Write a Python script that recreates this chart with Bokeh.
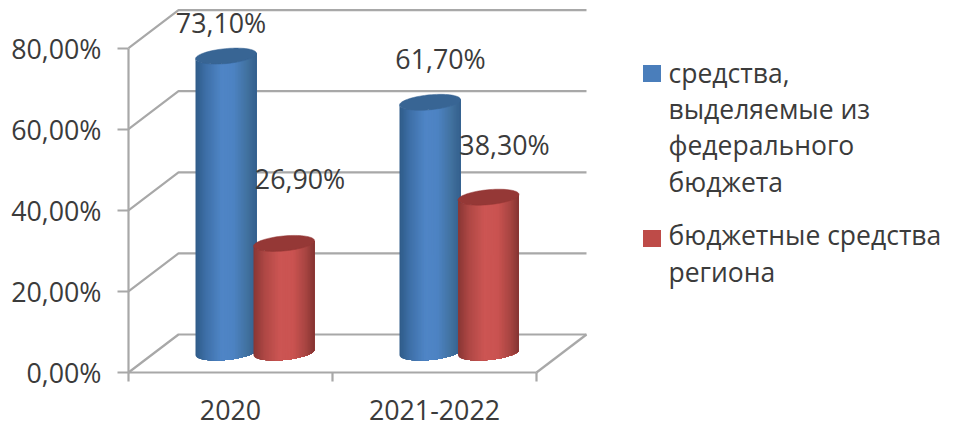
import numpy as np
from bokeh.plotting import figure
from bokeh.embed import file_html
from bokeh.resources import INLINE
from bokeh.core.properties import value
from bokeh.models import ColumnDataSource, FixedTicker

categories = ["2020", "2021-2022"]
federal = [73.1, 61.7]
regional = [26.9, 38.3]
y_ticks = [0, 20, 40, 60, 80]
y_tick_labels = ["0,00%", "20,00%", "40,00%", "60,00%", "80,00%"]
legend_federal = ["средства,", "выделяемые из", "федерального", "бюджета"]
legend_regional = ["бюджетные средства", "региона"]

FONT = "Open Sans"
TXT = "#3b3b3b"
FS = "26.8px"
FS_LEG = "26.5px"
GRID = "#a8a8a8"

W, H = 953, 426
PX_X = 204.0       # pixels per category
PX_Y = 4.055       # pixels per percent
X0, Y0 = 128, 372  # pixel of the origin


def fx(px):
    return (px - X0) / PX_X


def fy(py):
    return (Y0 - py) / PX_Y


p = figure(width=W, height=H, output_backend="svg", toolbar_location=None,
           x_range=(fx(0), fx(W)), y_range=(fy(H), fy(0)),
           min_border=0, outline_line_color=None, background_fill_color="white",
           border_fill_color="white", x_axis_location="below", y_axis_location="left")
p.grid.visible = False

# 3D walls
depth_x, depth_y = 50 / PX_X, 38 / PX_Y
n = len(categories)
for t in y_ticks:
    p.line([0, depth_x, n + depth_x], [t, t + depth_y, t + depth_y], line_color=GRID, line_width=2.2)
p.line([n, n + depth_x], [0, depth_y], line_color=GRID, line_width=2.2)


def lerp_color(stops, u):
    us = [s[0] for s in stops]
    cs = np.array([[int(s[1][i:i + 2], 16) for i in (1, 3, 5)] for s in stops], float)
    rgb = [np.interp(u, us, cs[:, k]) for k in range(3)]
    return "#%02x%02x%02x" % tuple(int(round(c)) for c in rgb)


BLUE = [(-1, "#2f5b88"), (-.65, "#3e70a8"), (-.15, "#4f85c6"), (.25, "#4d83c3"), (.7, "#41719f"), (1, "#345f8c")]
RED = [(-1, "#883634"), (-.65, "#ad4744"), (-.15, "#cc5553"), (.3, "#ca5351"), (.7, "#a94542"), (1, "#843432")]
BLUE_CAP, RED_CAP = "#386594", "#953836"

half_w = 30.5
ell_b = 7.5
tilt = 0.09
base = 20 / PX_Y


def front_arc(dx):
    return -ell_b * np.sqrt(np.clip(1 - (dx / half_w) ** 2, 0, 1)) + tilt * dx


def cylinder(center_px, val, stops, cap):
    # painter's strips: each strip covers all that lies to its right, so no seams show
    N = 40
    edges = np.linspace(-half_w, half_w, N + 1)
    top = val + base
    fine = np.linspace(-half_w, half_w, 121)
    xs, ys, cols = [], [], []
    for k in range(N):
        d = np.concatenate([[edges[k]], fine[fine > edges[k]]])
        xs.append(list(fx(center_px + d)) + list(fx(center_px + d[::-1])))
        ys.append(list(top + front_arc(d) / PX_Y) + list(base + front_arc(d[::-1]) / PX_Y))
        cols.append(lerp_color(stops, (edges[k] + edges[k + 1]) / 2 / half_w))
    p.patches(xs, ys, fill_color=cols, line_color=None)
    th = np.linspace(0, 2 * np.pi, 80)
    dx = half_w * np.cos(th)
    dy = ell_b * np.sin(th) + tilt * dx
    p.patch(fx(center_px + dx), top + dy / PX_Y, fill_color=cap, line_color=cap, line_width=0.5)
    return top


offset_blue, offset_red = 97.5, 155.5
label_shift = {0: [(-5, -32), (16, -63)], 1: [(10.5, -42), (16, -51)]}
lab_x, lab_y, lab_t, lab_dx, lab_dy = [], [], [], [], []
for i in range(n):
    left = X0 + i * PX_X
    for j, (vals, off, st, cap) in enumerate([(federal, offset_blue, BLUE, BLUE_CAP),
                                              (regional, offset_red, RED, RED_CAP)]):
        c = left + off + (i * 0.5 if j == 1 else 0)
        top = cylinder(c, vals[i], st, cap)
        lab_x.append(fx(c))
        lab_y.append(top)
        lab_t.append(f"{vals[i]:.2f}".replace(".", ",") + "%")
        lab_dx.append(label_shift[i][j][0])
        lab_dy.append(label_shift[i][j][1] - 2)

p.text(x="x", y="y", text="t", x_offset="dx", y_offset="dy",
       source=ColumnDataSource(dict(x=lab_x, y=lab_y, t=lab_t, dx=lab_dx, dy=lab_dy)),
       text_font=value(FONT), text_font_size=value(FS), text_color=TXT,
       text_align="center", text_baseline="middle")

# axes
ya = p.yaxis[0]
ya.fixed_location = 0
ya.bounds = (0, 80)
ya.ticker = FixedTicker(ticks=y_ticks)
ya.major_label_overrides = dict(zip(y_ticks, y_tick_labels))
ya.major_tick_out = 11
ya.major_tick_in = 0
ya.minor_tick_line_color = None
ya.major_label_standoff = 16
ya.axis_line_color = GRID
ya.axis_line_width = 2.2
ya.major_tick_line_color = GRID
ya.major_tick_line_width = 2.2
ya.major_label_text_font = FONT
ya.major_label_text_font_size = FS
ya.major_label_text_color = TXT

xa = p.xaxis[0]
xa.fixed_location = 0
xa.bounds = (0, n)
mids = [i + 0.5 for i in range(n)]
xa.ticker = FixedTicker(ticks=mids, minor_ticks=list(range(n + 1)))
xa.major_label_overrides = dict(zip(mids, categories))
xa.major_tick_line_color = None
xa.major_tick_out = 0
xa.major_tick_in = 0
xa.minor_tick_out = 9
xa.minor_tick_in = 0
xa.minor_tick_line_color = GRID
xa.minor_tick_line_width = 2.2
xa.major_label_standoff = 18
xa.axis_line_color = GRID
xa.axis_line_width = 2.2
xa.major_label_text_font = FONT
xa.major_label_text_font_size = FS
xa.major_label_text_color = TXT

# legend
p.rect([fx(651.5)], [fy(73)], width=18 / PX_X, height=17 / PX_Y, fill_color="#4a7ebb", line_color=None)
p.rect([fx(651.5)], [fy(238)], width=18 / PX_X, height=17 / PX_Y, fill_color="#be4b48", line_color=None)
leg_text = legend_federal + legend_regional
leg_base = [72, 108, 144.5, 181, 234.5, 271]
p.text([fx(668)] * len(leg_text), [fy(b) for b in leg_base], text=leg_text,
       text_font=value(FONT), text_font_size=value(FS_LEG), text_color=TXT,
       text_align="left", text_baseline="alphabetic")

open("out.html", "w").write(file_html(p, INLINE))
